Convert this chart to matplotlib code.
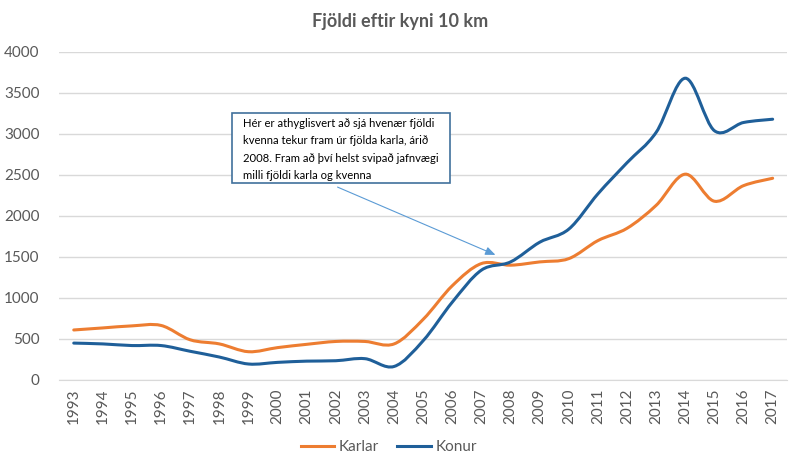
import numpy as np
import matplotlib
matplotlib.use('Agg')
import matplotlib.pyplot as plt
from matplotlib.path import Path
from matplotlib.patches import PathPatch
from matplotlib.lines import Line2D

plt.rcParams['font.family'] = ['Lato', 'DejaVu Sans']

# Data
years = [str(y) for y in range(1993, 2018)]
karlar = [610, 635, 660, 665, 490, 440, 345, 395, 435, 470, 470, 440, 740,
          1150, 1420, 1400, 1440, 1480, 1700, 1850, 2130, 2510, 2180, 2370, 2460]
konur = [450, 440, 420, 420, 350, 280, 195, 215, 230, 235, 260, 165, 480,
         950, 1340, 1440, 1680, 1840, 2270, 2650, 3020, 3680, 3040, 3140, 3180]

orange = '#ED7D31'
blue = '#1F5F99'
grey = '#595959'


def smooth_path(xs, ys, t=1/6):
    # Excel-style smoothed line: cubic bezier segments through the points
    xs = np.asarray(xs, float)
    ys = np.asarray(ys, float)
    n = len(xs)
    verts = [(xs[0], ys[0])]
    codes = [Path.MOVETO]
    for i in range(n - 1):
        p0 = (xs[max(i - 1, 0)], ys[max(i - 1, 0)])
        p1 = (xs[i], ys[i])
        p2 = (xs[i + 1], ys[i + 1])
        p3 = (xs[min(i + 2, n - 1)], ys[min(i + 2, n - 1)])
        c1 = (p1[0] + (p2[0] - p0[0]) * t, p1[1] + (p2[1] - p0[1]) * t)
        c2 = (p2[0] - (p3[0] - p1[0]) * t, p2[1] - (p3[1] - p1[1]) * t)
        verts += [c1, c2, p2]
        codes += [Path.CURVE4] * 3
    return Path(verts, codes)


fig = plt.figure(figsize=(8, 4.67), dpi=100)
ax = fig.add_axes([0.074, 0.1863, 0.910, 0.7024])

x = np.arange(len(years))
for vals, col in [(karlar, orange), (konur, blue)]:
    ax.add_patch(PathPatch(smooth_path(x, vals), facecolor='none',
                           edgecolor=col, lw=2.2, capstyle='round', zorder=3))

ax.set_xlim(-0.5, len(years) - 0.5)
ax.set_ylim(0, 4000)
ax.set_yticks(range(0, 4001, 500))
ax.set_xticks(x)
ax.set_xticklabels(years, rotation=90)
ax.tick_params(axis='both', length=0, labelsize=11, colors=grey)
ax.tick_params(axis='y', pad=14)
ax.tick_params(axis='x', pad=6)
ax.grid(axis='y', color='#D9D9D9', lw=1)
ax.set_axisbelow(True)
for s in ax.spines.values():
    s.set_visible(False)
ax.spines['bottom'].set_visible(True)
ax.spines['bottom'].set_color('#D9D9D9')

fig.text(0.5, 0.953, 'Fjöldi eftir kyni 10 km', ha='center', va='center',
         fontsize=13, fontweight='bold', color=grey)

# annotation box with arrow
note = ('Hér er athyglisvert að sjá hvenær fjöldi\n'
        'kvenna tekur fram úr fjölda karla, árið\n'
        '2008. Fram að því helst svipað jafnvægi\n'
        'milli fjöldi karla og kvenna')
fig.patches.append(plt.Rectangle((232 / 800, 1 - 183 / 467), 218 / 800, 70 / 467,
                                 transform=fig.transFigure, facecolor='white',
                                 edgecolor='#41719C', lw=1.2, zorder=5))
fig.text(243 / 800, 1 - 118 / 467, note, ha='left', va='top', fontsize=8.1,
         color='black', linespacing=1.7, zorder=6)
ax.annotate('', xy=(498 / 800, 1 - 256 / 467), xycoords='figure fraction',
            xytext=(335 / 800, 1 - 186 / 467), textcoords='figure fraction',
            arrowprops=dict(arrowstyle='-|>,head_length=0.6,head_width=0.25',
                            color='#5B9BD5', lw=0.8), zorder=4)

handles = [Line2D([], [], color=orange, lw=2.2), Line2D([], [], color=blue, lw=2.2)]
fig.legend(handles, ['Karlar', 'Konur'], loc='center', bbox_to_anchor=(0.486, 0.043),
           ncol=2, frameon=False, fontsize=11, labelcolor=grey, handlelength=2.2,
           handletextpad=0.3, columnspacing=1.2)

fig.savefig('out.png', dpi=100)
